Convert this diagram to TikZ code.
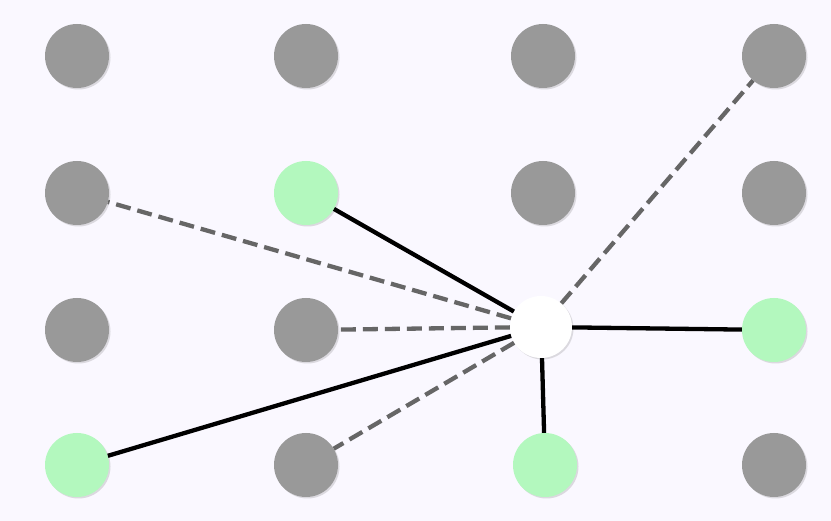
\documentclass[tikz,border=0pt]{standalone}
\usetikzlibrary{shadows}
\definecolor{bg}{HTML}{FAF8FF}
\definecolor{gr}{HTML}{999999}
\definecolor{gn}{HTML}{B3F8BE}
\definecolor{dl}{HTML}{666666}
\begin{document}
\begin{tikzpicture}[x=1pt,y=-1pt,
  dot/.style={circle,minimum size=64pt,inner sep=0pt,fill=gr,drop shadow={shadow xshift=1.5pt,shadow yshift=-1.5pt,opacity=0.25}},
  gdot/.style={dot,fill=gn},
  wdot/.style={dot,fill=white,minimum size=62pt},
  sl/.style={line width=4.3pt,black},
  dl2/.style={line width=4.3pt,dl,dash pattern=on 15pt off 7pt}]
\fill[bg] (0,0) rectangle (831,521);
\useasboundingbox (0,0) rectangle (831,521);
\node[dot] (a1) at (77,56) {};
\node[dot] (a2) at (306,56) {};
\node[dot] (a3) at (543,56) {};
\node[dot] (a4) at (774,56) {};
\node[dot] (b1) at (77,193) {};
\node[gdot] (b2) at (306,193) {};
\node[dot] (b3) at (543,193) {};
\node[dot] (b4) at (774,193) {};
\node[dot] (c1) at (77,330) {};
\node[dot] (c2) at (306,330) {};
\node[wdot] (c) at (541,327) {};
\node[gdot] (c4) at (774,330) {};
\node[gdot] (d1) at (77,465) {};
\node[dot] (d2) at (306,465) {};
\node[gdot] (d3) at (545,465) {};
\node[dot] (d4) at (774,465) {};
\draw[sl] (c) -- (b2);
\draw[sl] (c) -- (d1);
\draw[sl] (c.south) ++(1,0) -- (d3);
\draw[sl] (c) -- (c4);
\draw[dl2] (c) -- (b1);
\draw[dl2] (c) -- (c2);
\draw[dl2] (c) -- (d2);
\draw[dl2] (c) -- (a4);
\end{tikzpicture}
\end{document}
